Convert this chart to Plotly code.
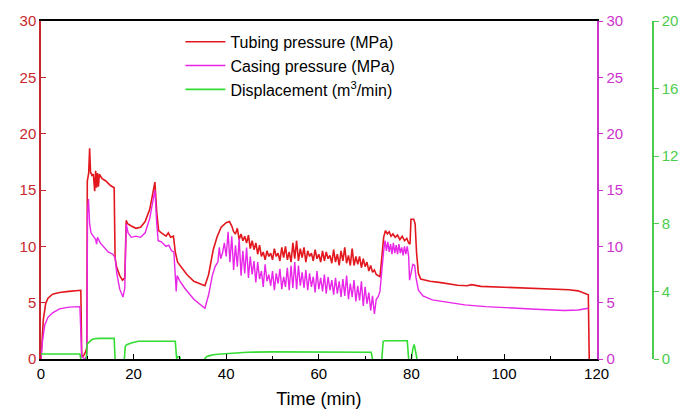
import plotly.graph_objects as go

# ---------------- data ----------------
tubing_t = [0, 0.2, 0.5, 1.0, 1.5, 2.5, 4, 6, 8.3, 8.6, 8.8, 9.2, 9.6, 9.9, 10.0, 10.3, 10.5, 10.7,
            11.0, 11.3, 11.6, 11.8, 12.0, 12.2, 12.4, 12.6, 12.9, 13.2, 14.0, 15.0, 15.8, 16.0, 16.3,
            17.0, 17.6, 18.1, 18.4, 18.7, 19.5, 20.5, 21.5, 22.5, 23.5, 24.2, 24.6, 25.0, 25.4, 26.0,
            27.0, 27.5, 28.0, 28.6, 29.0, 29.5, 30.5, 31.5, 33.0, 35.4, 36.2, 37.2, 38.0, 38.9, 40.0,
            40.7,
            41.2, 41.6, 42.0, 42.4, 42.8, 43.2, 43.6, 44.0, 44.4, 44.8, 45.2, 45.6, 46.0, 46.4, 46.8,
            47.2, 47.6, 48.0, 48.4, 48.8, 49.2, 49.6, 50.0, 50.4, 50.8, 51.2, 51.6, 52.0, 52.4, 52.8,
            53.2, 53.6, 54.0, 54.4, 54.8, 55.2, 55.6, 56.0, 56.4, 56.8, 57.2, 57.6, 58.0, 58.4, 58.8,
            59.2, 59.6, 60.0, 60.4, 60.8, 61.2, 61.6, 62.0, 62.4, 62.8, 63.2, 63.6, 64.0, 64.4, 64.8,
            65.2, 65.6, 66.0, 66.4, 66.8, 67.2, 67.6, 68.0, 68.4, 68.8, 69.2, 69.6, 70.0, 70.4, 70.8,
            71.2, 71.6, 72.0, 72.4, 72.8, 73.2,
            73.6, 74.0, 74.4, 74.8, 75.2, 75.6, 76.0, 76.5, 77.0, 77.5, 78.0, 78.5, 79.0, 79.4, 79.7,
            79.9, 80.5, 80.8, 81.1, 81.5, 82.0, 84, 86, 88, 90, 92, 93, 95, 98, 100, 102, 106, 110,
            114, 116, 117.5, 118.2, 118.4]
tubing_p = [0, 2.0, 3.5, 4.9, 5.4, 5.75, 5.9, 6.0, 6.1, 6.1, 0.2, 0.3, 0.6, 1.0, 15.8, 16.5, 18.7, 16.6,
            16.3, 16.4, 14.9, 16.7, 15.2, 16.5, 15.3, 16.4, 16.2, 16.0, 15.8, 15.4, 15.2, 9.0, 8.2,
            7.4, 7.0, 7.2, 12.3, 12.0, 11.8, 11.6, 11.7, 12.2, 13.3, 14.8, 15.7, 13.0, 11.4, 11.2,
            10.9, 11.2, 10.8, 10.9, 9.5, 8.6, 8.0, 7.5, 6.9, 6.5, 7.5, 9.7, 10.8, 11.7, 12.1,
            12.2,
            11.8, 11.3, 11.1, 11.6, 10.6, 11.1, 10.5, 10.9, 10.3, 11.0, 9.8, 10.5, 9.7, 10.3, 9.3,
            10.1, 9.1, 9.5, 8.8, 9.6, 9.1, 9.4, 8.8, 9.8, 9.1, 9.4, 8.7, 9.9, 9.0, 10.0,
            8.8, 9.5, 8.6, 10.3, 8.9, 10.5, 8.7, 9.8, 9.0, 9.9, 8.6, 9.6, 9.1, 9.4, 8.7,
            9.7, 8.9, 9.3, 8.6, 9.6, 8.7, 9.5, 8.9, 9.2, 8.5, 9.7, 8.6, 9.3, 8.3, 9.6,
            8.7, 9.9, 8.5, 9.2, 8.3, 9.8, 8.3, 9.1, 8.4, 9.1, 8.1, 8.9, 8.2, 8.6, 7.8,
            8.3, 7.7, 7.9, 7.5, 7.4, 7.3,
            9.0, 10.8, 11.4, 11.1, 11.3, 10.9, 11.1, 10.8, 11.0, 10.6, 10.9, 10.5, 10.7, 10.3, 10.2,
            12.4, 12.4, 12.0, 9.5, 7.6, 7.1, 6.9, 6.8, 6.65, 6.55, 6.5, 6.6, 6.45, 6.4, 6.35, 6.3, 6.25,
            6.2, 6.15, 6.05, 5.85, 5.7, 0]

casing_t = [0, 0.3, 0.8, 1.5, 2.5, 4, 6, 8.4, 8.8, 9.5, 9.9, 10.05, 10.25, 10.5, 10.8, 11.3, 11.8,
            12.0, 12.2, 12.8, 13.5, 14.5, 15.5, 16.0, 16.4, 17.0, 17.7, 18.1, 18.4, 18.8, 19.5, 20.5,
            21.5, 22.5, 23.5, 24.2, 24.6, 25.0, 25.3, 26.0, 27.0, 27.6, 28.2, 28.7, 29.0, 29.2, 29.4,
            30.0, 31.0, 33.0, 35.4, 36.2, 37.0, 37.6, 38.2, 38.5, 38.8, 39.2, 39.6, 40.0, 40.4, 40.8,
            41.2, 41.6, 42.0, 42.4, 42.8, 43.2, 43.6, 44.0, 44.4, 44.8, 45.2, 45.6, 46.0, 46.4, 46.8,
            47.2, 47.6, 48.0, 48.4, 48.8, 49.2, 49.6, 50.0, 50.4, 50.8, 51.2, 51.6, 52.0, 52.4, 52.8,
            53.2, 53.6, 54.0, 54.4, 54.8, 55.2, 55.6, 56.0, 56.4, 56.8, 57.2, 57.6, 58.0, 58.4, 58.8,
            59.2, 59.6, 60.0, 60.4, 60.8, 61.2, 61.6, 62.0, 62.4, 62.8, 63.2, 63.6, 64.0, 64.4, 64.8,
            65.2, 65.6, 66.0, 66.4, 66.8, 67.2, 67.6, 68.0, 68.4, 68.8, 69.2, 69.6, 70.0, 70.4, 70.8,
            71.2, 71.6, 72.0, 72.4, 72.8, 73.2, 73.6, 74.0, 74.3, 74.6, 74.9, 75.2, 75.5, 75.8, 76.1,
            76.4, 76.7, 77.0, 77.3, 77.6, 77.9, 78.2, 78.5, 78.8, 79.1, 79.4, 79.6, 79.9, 80.3, 80.7,
            81.0, 81.5, 82.5, 84.5, 88, 91.5, 96, 102, 108, 113, 116, 118.2]
casing_p = [0, 1.5, 3.0, 3.7, 4.1, 4.45, 4.6, 4.65, 0.2, 0, 0.3, 13.0, 14.2, 12.0, 11.2, 10.9, 10.6,
            10.2, 10.8, 10.3, 10.0, 9.5, 9.3, 9.0, 7.5, 6.2, 5.5, 6.3, 12.0, 11.2, 10.8, 10.9,
            10.8, 11.2, 12.5, 14.0, 15.0, 12.0, 10.5, 10.4, 10.0, 10.1, 9.6, 9.5, 7.8, 6.0, 7.4,
            6.9, 6.3, 5.3, 4.5, 5.7, 7.4, 8.2, 8.6, 9.9, 8.9, 9.4, 10.3, 9.1, 11.3, 8.6,
            10.9, 7.9, 10.1, 8.2, 10.7, 7.4, 9.6, 7.6, 9.9, 7.2, 9.1, 7.5, 8.7, 6.8, 8.6,
            7.1, 7.8, 6.4, 8.4, 6.9, 7.5, 6.5, 7.8, 6.1, 7.6, 6.7, 8.0, 6.2, 7.3, 6.4,
            8.1, 6.1, 8.3, 6.3, 8.6, 6.2, 8.3, 6.5, 7.7, 6.3, 7.9, 6.1, 7.6, 6.4, 7.3,
            5.9, 7.8, 6.2, 7.2, 6.0, 7.5, 5.8, 7.3, 6.1, 7.0, 5.7, 7.2, 5.8, 6.9, 5.5,
            7.1, 5.6, 7.4, 5.3, 6.7, 5.5, 7.0, 5.1, 6.5, 5.2, 6.9, 4.7, 6.4, 4.9, 5.9,
            4.3, 5.6, 4.0, 5.3, 5.5, 6.0, 8.0, 9.6, 10.5, 9.6, 10.4, 9.5, 10.2, 9.3, 10.3,
            9.4, 10.1, 9.3, 10.2, 9.4, 9.9, 9.2, 10.0, 9.3, 10.0, 9.1, 7.0, 7.6, 8.4, 8.3,
            7.2, 6.1, 5.6, 5.25, 5.0, 4.8, 4.65, 4.5, 4.4, 4.3, 4.35, 4.5]

# None marks where the curve sits on the time axis (hidden under it in the original)
disp_t = [0, 8.4, 8.6, None, 9.8, 10.0, 10.4, 11.0, 11.6, 12.5, 15.8, 16.0, None, 18.0, 18.2, 18.5,
          19.5, 21.0, 29.0, 29.3, 29.5, 30.0, 30.1, None, 35.3, 35.8, 36.5, 37.2, 38.9, 44.6, 50,
          60.3, 71.3, 71.6, None, 73.6, 73.9, 74.3, 79.1, 79.4, None, 80.0, 80.3, 80.6, 80.9, 81.2]
disp_q = [0.3, 0.3, 0, None, 0, 0.9, 1.0, 1.15, 1.2, 1.22, 1.22, 0, None, 0, 0.75, 0.85,
          0.95, 1.05, 1.05, 0, 0.15, 0.1, 0, None, 0, 0.15, 0.2, 0.25, 0.3, 0.4, 0.42,
          0.42, 0.4, 0, None, 0, 1.05, 1.08, 1.08, 0, None, 0, 0.6, 0.86, 0.5, 0]

x_ticks = [0, 20, 40, 60, 80, 100, 120]
p_ticks = [0, 5, 10, 15, 20, 25, 30]
q_ticks = [0, 4, 8, 12, 16, 20]

# ---------------- style ----------------
RED = "#e3181f"
MAG = "#e825e8"
GRN = "#33dd33"
RED_AX = "#c8282d"
MAG_AX = "#cc33cc"
GRN_AX = "#4ccc4c"
FONT = "Liberation Sans, Arial, sans-serif"

W, H = 690, 418
ML, MR, MT, MB = 41, 30, 17, 52
plot_w = W - ML - MR
plot_h = H - MT - MB
x_dom_end = (603 - ML) / plot_w

fig = go.Figure()
fig.add_trace(go.Scatter(x=tubing_t, y=tubing_p, mode="lines", name="Tubing pressure (MPa)",
                         line=dict(color=RED, width=1.6), yaxis="y"))
fig.add_trace(go.Scatter(x=casing_t, y=casing_p, mode="lines", name="Casing pressure (MPa)",
                         line=dict(color=MAG, width=1.4), yaxis="y2"))
fig.add_trace(go.Scatter(x=disp_t, y=disp_q, mode="lines", name="Displacement (m<sup>3</sup>/min)",
                         line=dict(color=GRN, width=1.6), yaxis="y3", connectgaps=False))

fig.update_layout(
    width=W, height=H,
    margin=dict(l=ML, r=MR, t=MT, b=MB),
    plot_bgcolor="white", paper_bgcolor="white",
    font=dict(family=FONT, size=14, color="black"),
    showlegend=True,
    legend=dict(x=(182 - ML) / plot_w, y=1 - (21 - MT) / plot_h, xanchor="left", yanchor="top",
                bgcolor="rgba(0,0,0,0)", font=dict(family=FONT, size=16, color="black"),
                tracegroupgap=0, itemwidth=40),
    xaxis=dict(domain=[0, x_dom_end], range=[0, 120], tickvals=x_ticks,
               ticks="inside", ticklen=5, tickwidth=1.2, tickcolor="black",
               showline=True, linecolor="black", linewidth=1.5, mirror=True,
               showgrid=False, zeroline=False,
               tickfont=dict(size=15, color="black"),
               minor=dict(ticks="inside", ticklen=3, dtick=10, tickcolor="black", showgrid=False),
               title=dict(text="Time (min)", font=dict(size=18, color="black"), standoff=12)),
    yaxis=dict(range=[0, 30], tickvals=p_ticks, ticks="inside", ticklen=5, tickwidth=1.2,
               tickcolor=RED_AX, showline=True, linecolor=RED_AX, linewidth=1.5,
               showgrid=False, zeroline=False, tickfont=dict(size=15, color=RED_AX)),
    yaxis2=dict(range=[0, 30], tickvals=p_ticks, overlaying="y", side="right", anchor="x",
                ticks="outside", ticklen=5, tickwidth=1.2, tickcolor=MAG_AX,
                showline=True, linecolor=MAG_AX, linewidth=1.5,
                showgrid=False, zeroline=False, tickfont=dict(size=15, color=MAG_AX)),
    yaxis3=dict(range=[0, 20], tickvals=q_ticks, overlaying="y", side="right", anchor="free",
                position=1.0, ticks="outside", ticklen=5, tickwidth=1.2, tickcolor=GRN_AX,
                showline=True, linecolor=GRN_AX, linewidth=1.5,
                showgrid=False, zeroline=False, tickfont=dict(size=15, color=GRN_AX)),
)

fig.write_html("out.html", config={"displayModeBar": False},
               post_script="document.body.style.margin='0';")
